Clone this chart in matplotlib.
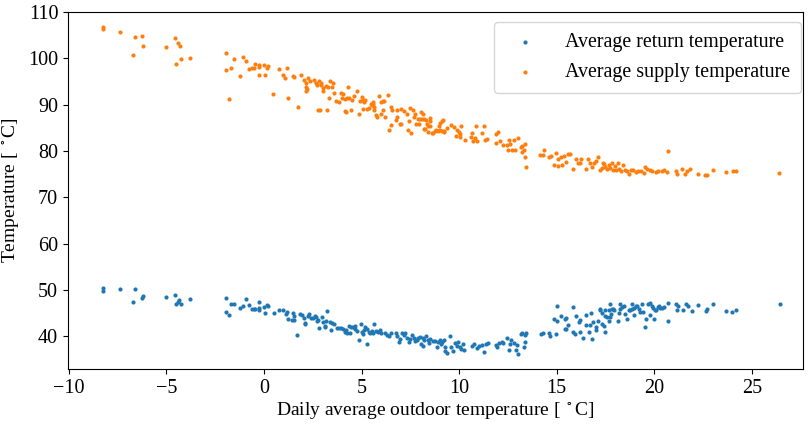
import matplotlib
matplotlib.use("Agg")
import matplotlib.pyplot as plt

# Daily average outdoor temperature [°C] and average supply temperature [°C]
supply_x = [
    -8.24, -8.24, -7.38, -6.6, -6.24, -6.73, -6.2, -5.0, -4.55, -4.41, -4.3, -4.27, -4.51, -3.78,
    -1.93, -1.93, -1.71, -1.81, -1.54, -1.25, -1.06, -0.92, -0.79, -0.6, -0.51, -0.44, -0.26, -0.24,
    -0.27, -0.02, 0.03, 0.14, 0.22,
    0.48, 0.79, 0.96, 1.1, 1.16, 1.23, 1.5, 1.56, 1.73, 1.9, 2.07, 2.14, 2.27, 2.15, 2.18, 2.15,
    2.36, 2.58, 2.65, 2.72, 2.8, 2.9, 2.94, 3.04, 3.0, 3.2, 3.27, 3.38, 3.56, 3.49, 2.77, 2.85,
    3.25, 3.35, 3.61, 3.7, 3.83, 3.97, 4.07, 4.0, 4.14, 4.31, 4.17, 4.2, 4.24, 4.34, 4.44, 4.51,
    4.62, 4.79, 4.89, 4.92, 5.0, 5.06, 5.13, 5.2, 5.06, 5.3, 5.4, 5.47, 5.52, 5.58, 5.6, 5.63,
    5.66, 5.72, 5.8, 5.9, 5.98, 6.08, 6.15, 6.0, 6.1, 6.22, 6.36, 6.53, 6.56, 6.77, 6.8, 6.84,
    6.97, 6.53, 6.43,
    7.04, 7.18, 7.04, 7.32, 7.45, 7.5, 7.66, 7.7, 7.73, 7.8, 7.93, 7.9, 7.97, 8.07, 8.14, 8.1,
    8.2, 8.3, 8.2, 8.27, 8.34, 8.4, 8.5, 8.4, 8.5, 8.52, 8.62, 8.68, 8.76, 8.82, 8.9, 9.0, 9.1,
    9.16, 9.14, 9.03, 8.96, 9.2, 9.23, 9.4, 9.57, 9.75, 9.9, 10.0, 10.04, 10.1, 9.85, 10.05,
    10.3, 10.6, 10.67, 10.7, 10.8, 10.9, 10.85, 11.25, 11.15, 11.3, 11.45, 11.9, 11.9, 12.0,
    12.1, 7.38, 7.55,
    12.24, 12.44, 12.58, 12.6, 12.5, 12.7, 12.85, 12.8, 13.0, 13.16, 13.2, 13.3, 13.4, 13.2,
    13.4, 13.44, 14.15, 14.3, 14.36, 14.6, 14.7, 14.85, 14.98, 15.05, 15.05, 15.2, 15.25, 15.4,
    15.47, 15.6, 15.7, 15.86, 16.0, 16.1, 16.2, 16.25, 16.5, 16.6, 16.7, 16.8, 16.9, 17.0,
    17.13, 17.2, 17.3, 17.35, 17.42, 17.5, 17.6, 17.7, 17.75, 17.85, 17.9, 18.0, 18.05, 18.15,
    18.2, 18.3, 18.4, 18.5, 18.6, 18.7, 18.8, 18.9, 19.05, 19.15, 19.3, 19.45, 19.55, 19.65,
    19.8, 19.9, 20.1, 20.2, 20.4, 20.5, 20.65, 20.68, 21.1, 21.15, 21.4, 21.6, 21.7, 21.85,
    22.25, 22.6, 22.7, 23.0, 23.7, 24.05, 24.2, 26.4,
]
supply_temp = [
    106.7, 106.3, 105.6, 104.5, 104.8, 100.6, 102.6, 102.5, 104.3, 103.2, 102.6, 99.9, 98.7, 100.1,
    101.2, 97.4, 98.0, 91.2, 99.8, 96.2, 100.3, 99.3, 97.7, 98.0, 97.8, 98.8, 98.6, 98.2,
    96.3, 98.6, 96.3, 98.0, 98.3,
    92.2, 97.6, 96.4, 95.8, 98.0, 91.4, 96.1, 96.0, 89.4, 96.4, 95.4, 94.7, 95.8, 93.8, 93.3, 93.0,
    95.0, 95.4, 94.6, 94.3, 95.0, 94.2, 94.7, 93.5, 93.0, 94.1, 93.7, 95.0, 94.6, 93.8, 88.9, 88.8,
    88.8, 91.5, 92.6, 90.8, 90.5, 92.6, 92.2, 91.5, 91.2, 93.8, 88.6, 88.4, 91.4, 91.4, 88.8, 90.9,
    91.8, 92.9, 88.0, 90.8, 91.6, 91.0, 90.6, 90.9, 89.1, 89.1, 89.2, 90.2, 89.9, 90.2, 90.5, 89.5,
    88.9, 87.8, 87.4, 91.8, 90.6, 90.7, 90.8, 88.0, 88.8, 87.3, 92.1, 89.4, 88.8, 86.6, 87.3, 88.8,
    85.9, 85.7, 84.5,
    89.0, 88.7, 85.8, 87.9, 86.4, 89.2, 88.8, 87.4, 88.0, 85.9, 85.8, 86.9, 86.8, 88.3, 88.0, 87.0,
    86.9, 86.6, 84.8, 84.8, 85.8, 85.4, 85.3, 84.0, 87.2, 86.4, 83.9, 83.9, 84.4, 84.5, 84.3, 84.5, 84.3,
    86.7, 86.4, 86.1, 85.4, 84.4, 84.0, 85.0, 85.6, 85.1, 84.6, 84.1, 83.7, 85.3, 83.2, 83.0,
    82.4, 83.0, 83.9, 82.1, 82.7, 82.2, 85.4, 85.4, 83.9, 82.4, 82.5, 81.7, 83.6, 84.1,
    82.2, 84.5, 83.8,
    81.3, 81.3, 82.3, 81.6, 80.2, 80.3, 80.2, 82.4, 82.9, 80.8, 81.1, 80.2, 81.6, 79.7,
    78.8, 76.6, 79.2, 79.2, 80.2, 78.6, 79.0, 77.0, 79.6, 78.3, 76.8, 78.7, 77.0, 79.0,
    77.7, 79.4, 79.4, 76.2, 78.2, 77.5, 77.5, 78.2, 76.2, 78.2, 77.3, 76.6, 77.5, 77.8,
    78.7, 75.8, 76.3, 77.5, 77.1, 76.5, 76.1, 77.0, 76.4, 77.5, 76.0, 76.8, 75.9, 77.5,
    76.2, 75.6, 77.0, 76.0, 75.7, 75.1, 75.8, 76.0, 75.4, 75.6, 75.6, 75.3, 76.6, 76.1,
    75.9, 75.6, 75.4, 75.7, 75.6, 75.9, 75.4, 80.1, 75.6, 75.0, 76.2, 75.1, 75.6, 76.2,
    75.1, 74.9, 74.9, 75.8, 75.4, 75.6, 75.6, 75.2,
]

# Daily average outdoor temperature [°C] and average return temperature [°C]
return_x = [
    -8.24, -8.24, -7.38, -6.6, -6.73, -6.2, -6.24, -5.0, -4.55, -4.34, -4.41, -4.27, -4.51, -3.78,
    -1.93, -1.93, -1.81, -1.71, -1.54, -1.25, -1.06, -0.92, -0.79, -0.6, -0.51, -0.44, -0.26, -0.24,
    -0.27, -0.02, 0.03, 0.14, 0.22, 0.5, 0.79, 0.96, 1.11, 1.16, 1.23, 1.45,
    1.5, 1.52, 1.56, 1.71, 1.85, 1.95, 2.06, 2.12, 2.09, 2.23, 2.33, 2.4, 2.5, 2.6, 2.67, 2.7,
    2.76, 2.84, 2.97, 3.04, 3.1, 3.14, 3.25, 3.2, 3.4, 3.42, 3.5, 3.6, 3.73, 3.83, 3.97, 4.07,
    4.14, 4.24, 4.2, 4.34, 4.44, 4.54, 4.4, 4.65, 4.68, 4.78, 4.89, 4.96, 5.0, 5.06, 5.13, 5.26,
    5.2, 5.26, 5.37, 5.44, 5.54, 5.6, 5.64, 5.74, 5.84, 5.95, 6.02, 6.2, 6.3, 6.43, 6.53, 6.77,
    6.84, 6.9, 6.97, 7.08, 7.15, 7.2, 7.35, 7.42, 7.5, 7.6, 7.7, 7.76, 7.83, 7.9, 8.0, 8.13,
    8.2, 8.07, 8.17, 8.3, 8.4, 8.45, 8.5, 8.65, 8.75, 8.85, 8.92, 9.0, 9.06, 9.13, 9.2, 9.27,
    9.37, 9.3, 9.54, 9.6, 9.68, 9.8, 9.9, 9.95, 10.05, 10.12, 10.2, 10.26, 10.67, 10.77, 10.9,
    11.0, 11.18, 11.25, 11.4, 11.5, 11.9, 11.94, 12.04, 12.2, 12.27, 12.45, 12.55, 12.6, 12.68,
    12.8, 12.9, 12.96, 13.0, 13.16, 13.23, 13.3, 13.37, 13.4, 13.43,
    14.2, 14.3, 14.6, 14.67, 14.84, 15.04, 15.0, 15.2, 14.94, 15.42, 15.5, 15.5, 15.42, 15.59,
    15.83, 15.86, 15.96, 16.0, 16.14, 16.2, 16.17, 16.34, 16.8, 16.5, 16.7, 16.85, 16.68, 16.48,
    16.75, 16.99, 16.99, 17.13, 17.2, 17.23, 17.33, 17.4, 17.33, 17.47, 17.5, 17.57, 17.5, 17.68,
    17.74, 17.74, 17.7, 17.77, 17.85, 17.9, 17.95, 18.15, 18.19, 18.26, 18.26, 18.33, 18.43, 18.5,
    18.6, 18.7, 18.77, 18.87, 18.97, 19.04, 19.11, 18.87, 18.94, 19.21, 19.28, 19.38, 19.42, 19.52,
    19.59, 19.69, 19.79, 19.76, 19.86, 19.93, 19.97, 20.03, 20.1, 20.17, 20.24, 20.31, 20.38, 20.51,
    20.68, 20.68, 21.13, 21.16, 21.23, 21.47, 21.64, 21.74, 21.91, 22.26, 22.63, 22.7, 23.0, 23.7,
    23.97, 24.17, 26.43,
]
return_temp = [
    50.45, 49.7, 50.2, 50.3, 47.5, 48.7, 48.3, 48.6, 48.9, 47.9, 47.5, 47.0, 47.1, 48.1,
    48.2, 45.3, 44.7, 47.1, 47.0, 46.2, 46.5, 48.0, 46.7, 45.9, 45.9, 45.9, 47.4, 46.2,
    45.7, 46.3, 45.0, 46.7, 46.5, 45.0, 45.8, 45.6, 44.8, 45.3, 43.7, 43.6,
    45.1, 44.5, 43.6, 40.4, 44.8, 44.7, 44.0, 43.0, 42.7, 44.4, 44.8, 44.0, 43.9, 44.4, 44.1, 43.4,
    43.5, 41.8, 44.1, 43.1, 42.3, 42.1, 45.4, 43.3, 43.2, 41.4, 42.9, 42.6, 41.9, 41.8, 41.8, 41.7,
    41.0, 40.7, 41.3, 42.2, 42.1, 42.0, 40.8, 42.2, 41.5, 41.2, 39.2, 42.6, 40.9, 40.5, 41.3, 38.3,
    42.0, 41.6, 41.0, 40.7, 41.2, 40.7, 42.6, 41.2, 41.0, 41.3, 40.7, 40.8, 40.4, 40.0, 40.8, 40.7,
    40.0, 38.9, 39.5, 40.8, 40.2, 40.8, 39.6, 38.9, 39.5, 40.2, 39.6, 39.1, 39.3, 39.6, 39.8, 39.6,
    39.3, 38.3, 37.9, 40.0, 39.3, 38.6, 39.5, 39.1, 39.1, 37.8, 38.9, 39.2, 38.3, 38.7, 39.3, 36.9,
    36.5, 37.8, 40.1, 37.8, 36.9, 38.6, 38.0, 38.7, 37.8, 37.2, 38.4, 37.1, 38.0, 38.4, 37.4,
    38.0, 38.1, 36.7, 38.3, 38.6, 38.1, 37.8, 38.6, 38.9, 38.6, 39.6, 37.0, 38.4, 39.2,
    38.6, 37.1, 38.1, 36.2, 40.5, 40.8, 37.8, 38.7, 40.2, 40.8,
    40.5, 40.8, 40.8, 40.1, 43.8, 46.6, 43.3, 44.3, 40.6, 43.8, 44.0, 41.7, 41.7, 42.4,
    46.3, 40.9, 40.6, 44.4, 43.1, 43.55, 40.9, 39.6, 39.5, 42.4, 42.5, 43.1, 40.9, 44.6,
    45.0, 42.1, 41.4, 43.4, 45.7, 46.0, 42.7, 42.2, 45.0, 44.3, 45.7, 44.1, 40.9, 43.4,
    44.1, 47.0, 45.6, 44.9, 45.9, 46.0, 45.7, 43.3, 45.1, 47.0, 45.9, 46.3, 46.5, 44.9,
    43.7, 45.7, 45.6, 46.0, 46.2, 46.5, 46.5, 46.9, 44.6, 45.9, 45.3, 46.9, 45.3, 42.1,
    43.7, 46.9, 47.3, 44.6, 46.5, 46.2, 43.7, 45.7, 45.7, 46.3, 46.5, 46.2, 46.2, 46.3,
    47.2, 43.4, 46.9, 45.7, 46.5, 45.7, 46.9, 46.5, 45.4, 46.8, 45.4, 46.0, 46.9, 45.4,
    45.3, 45.7, 46.9,
]

series_labels = ["Average return temperature", "Average supply temperature"]
x_label = "Daily average outdoor temperature [ $^\\circ$C]"
y_label = "Temperature [ $^\\circ$C]"

plt.rcParams["font.family"] = ["Liberation Serif", "DejaVu Serif"]
plt.rcParams["mathtext.fontset"] = "stix"

fig, ax = plt.subplots(figsize=(8.09, 4.24), dpi=100)
fig.subplots_adjust(left=0.084, right=0.992, top=0.972, bottom=0.13)

ax.scatter(return_x, return_temp, s=9, color="#1f77b4", linewidths=0, label=series_labels[0])
ax.scatter(supply_x, supply_temp, s=9, color="#ff7f0e", linewidths=0, label=series_labels[1])

ax.set_xlim(-10.05, 27.6)
ax.set_ylim(33, 110)
ax.set_xticks([-10, -5, 0, 5, 10, 15, 20, 25])
ax.set_yticks([40, 50, 60, 70, 80, 90, 100, 110])
ax.tick_params(labelsize=14.5)
ax.set_xlabel(x_label, fontsize=14, labelpad=2)
ax.set_ylabel(y_label, fontsize=14, labelpad=5)
ax.legend(loc="upper right", bbox_to_anchor=(0.998, 0.972), borderaxespad=0,
          fontsize=14.4, labelspacing=0.55, borderpad=0.55, handletextpad=1.0)

fig.savefig("out.png", dpi=100)
